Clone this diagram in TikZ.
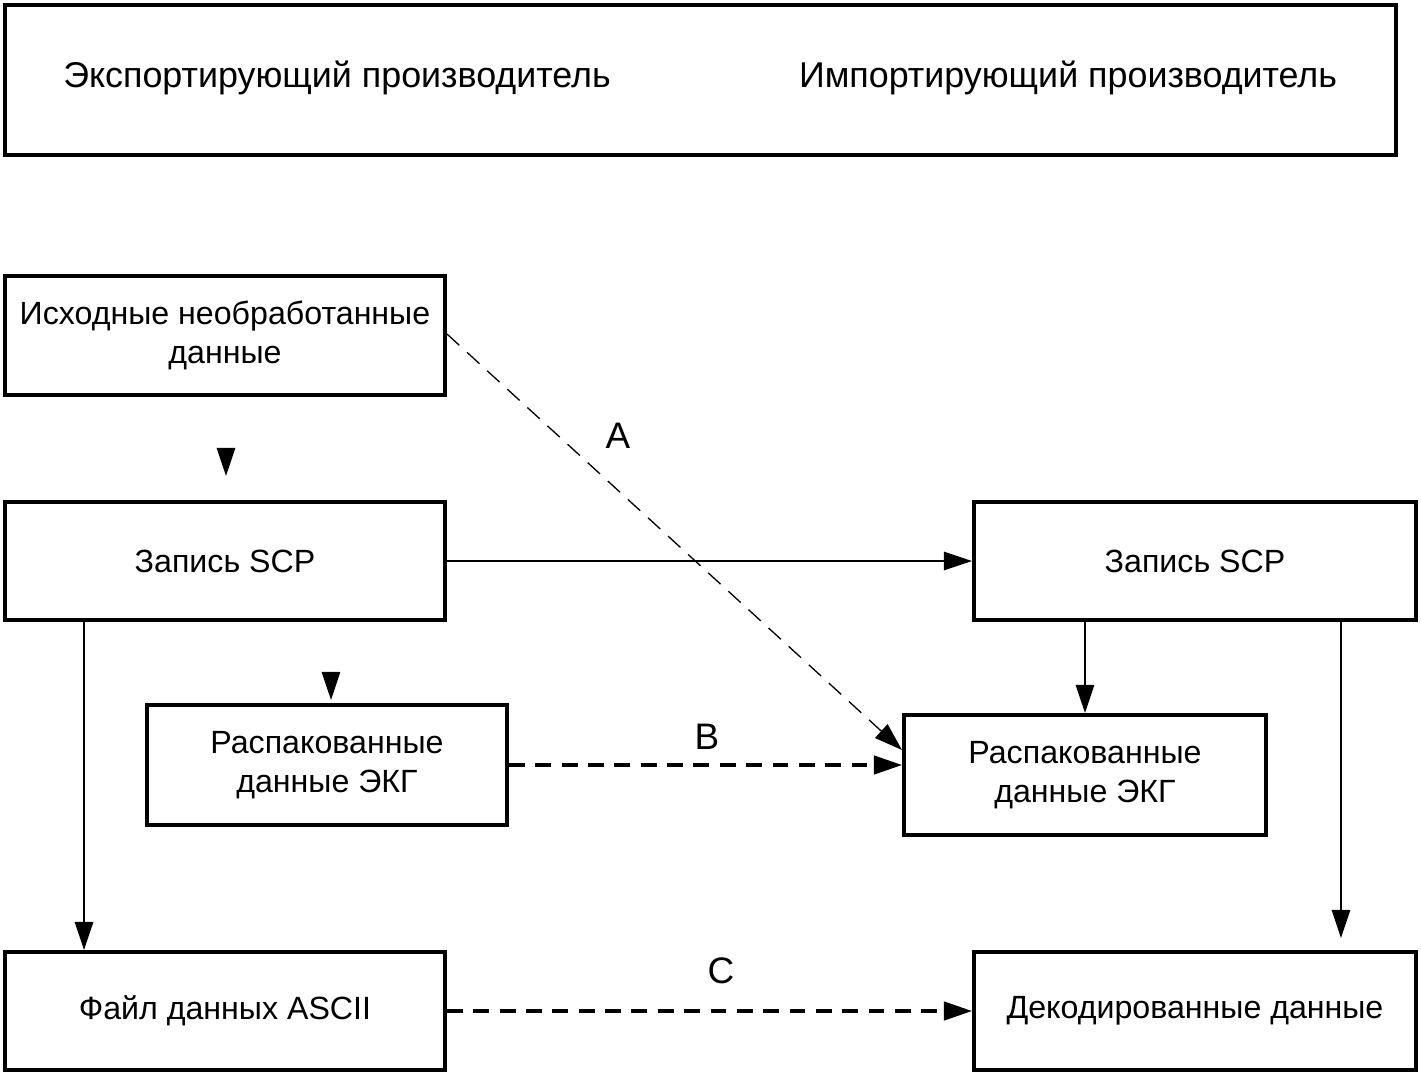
\documentclass[tikz,border=0pt]{standalone}
\usepackage{fontspec}
\setmainfont{Liberation Sans}
\usetikzlibrary{arrows.meta,calc}
\tikzset{
  box/.style={draw, line width=2.3pt, inner sep=0pt, align=center, font=\fontsize{18.3}{22}\selectfont},
  hdr/.style={font=\fontsize{20.4}{24}\selectfont},
  lbl/.style={font=\fontsize{21}{24}\selectfont},
  tip/.style={-{Triangle[length=16pt,width=10.5pt]}},
  solidarr/.style={tip, line width=0.9pt},
  dashthin/.style={tip, line width=0.75pt, dash pattern=on 9.5pt off 6pt},
  dashthick/.style={tip, line width=1.8pt, dash pattern=on 9pt off 6pt},
}
\begin{document}
\begin{tikzpicture}[x=0.02cm,y=-0.02cm]
\useasboundingbox (0,0) rectangle (1421,1076);
\node[box, minimum width=27.82cm, minimum height=3.0cm] (top) at (700.5,80) {};
\node[hdr] (exp) at (337,78) {Экспортирующий производитель};
\node[hdr] (imp) at (1068,78) {Импортирующий производитель};

\node[box, minimum width=8.8cm, minimum height=2.38cm, font=\fontsize{18.3}{22.5}\selectfont] (ish) at (225,335.5) {Исходные необработанные\\данные};
\node[box, minimum width=8.8cm, minimum height=2.36cm] (zl) at (225,561) {Запись SCP};
\node[box, minimum width=7.2cm, minimum height=2.4cm, font=\fontsize{18.3}{22.5}\selectfont] (rl) at (327,765) {Распакованные\\данные ЭКГ};
\node[box, minimum width=8.8cm, minimum height=2.36cm] (fl) at (225,1011) {Файл данных ASCII};
\node[box, minimum width=8.84cm, minimum height=2.36cm] (zr) at (1195,561) {Запись SCP};
\node[box, minimum width=7.24cm, minimum height=2.4cm, font=\fontsize{18.3}{22.5}\selectfont] (rr) at (1085,775) {Распакованные\\данные ЭКГ};
\node[box, minimum width=8.84cm, minimum height=2.36cm] (dr) at (1195,1011) {Декодированные данные};

% connectors
\draw[dashthin] ([yshift=0.03cm]ish.east) -- ([yshift=0.5cm]rr.west);
\draw[solidarr] (zl.east) -- (zr.west);
\draw[dashthick] (rl.east) -- (rl.east -| rr.west);
\draw[dashthick] (fl.east) -- (dr.west);
\draw[solidarr] ([xshift=-2.82cm]zl.south) -- ([xshift=-2.82cm]fl.north);
\draw[solidarr] (zr.south -| rr.north) -- (rr.north);
\draw[solidarr, shorten >=0.24cm] ([xshift=2.92cm]zr.south) -- ([xshift=2.92cm]dr.north);
% arrowheads without visible shaft
\draw[solidarr] ([xshift=0.02cm,yshift=1.04cm]zl.north) -- ([xshift=0.02cm,yshift=0.48cm]zl.north);
\draw[solidarr] ([xshift=0.08cm,yshift=0.62cm]rl.north) -- ([xshift=0.08cm,yshift=0.06cm]rl.north);

% labels
\node[lbl] (la) at (618,436) {A};
\node[lbl] (lb) at (707,737) {B};
\node[lbl] (lc) at (721,971) {C};
\end{tikzpicture}
\end{document}
